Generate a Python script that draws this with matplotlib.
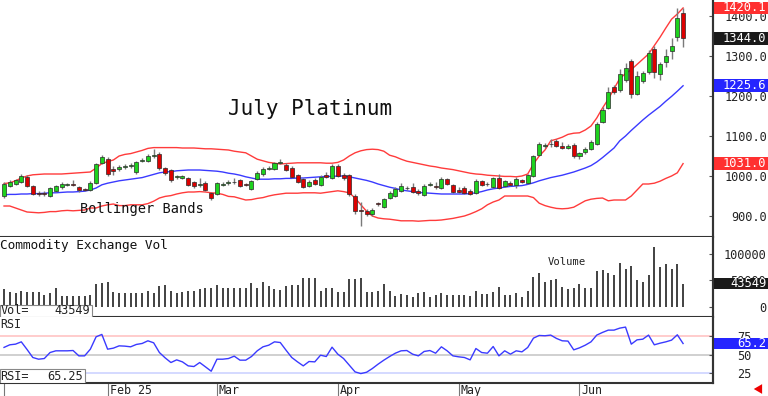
import matplotlib
matplotlib.use("Agg")
import matplotlib.pyplot as plt
import numpy as np
from matplotlib.patches import Rectangle

# ---- daily OHLC, July platinum (one value per trading day) ----
opens = [950, 975, 980, 985, 998, 975, 958, 958, 950, 963,
         972, 977, 980, 972, 968, 965, 982, 1033, 1043, 1017,
         1018, 1022, 1024, 1010, 1038, 1038, 1050, 1055, 1020, 1015,
         997, 996, 995, 985, 978, 983, 957, 955, 978, 982,
         984, 990, 979, 968, 993, 1005, 1018, 1018, 1032, 1028,
         1020, 1003, 993, 975, 990, 978, 1002, 995, 1025, 1003,
         1003, 950, 916, 913, 905, 932, 923, 945, 950, 963,
         969, 973, 963, 953, 977, 974, 970, 993, 978, 965,
         970, 963, 957, 988, 981, 973, 995, 975, 983, 978,
         990, 983, 1000, 1053, 1075, 1079, 1088, 1076, 1071, 1078,
         1050, 1061, 1068, 1081, 1136, 1171, 1222, 1214, 1239, 1287,
         1206, 1237, 1259, 1317, 1254, 1284, 1312, 1347, 1407]
highs = [985, 990, 993, 1005, 1002, 978, 962, 962, 973, 978,
         985, 983, 990, 975, 970, 988, 1033, 1052, 1048, 1025,
         1028, 1030, 1033, 1038, 1046, 1055, 1068, 1060, 1023, 1018,
         1003, 1003, 998, 988, 995, 987, 960, 986, 985, 990,
         995, 993, 982, 990, 1012, 1022, 1025, 1036, 1043, 1032,
         1024, 1006, 996, 989, 994, 1003, 1010, 1030, 1030, 1008,
         1006, 955, 935, 918, 920, 936, 946, 962, 972, 982,
         975, 983, 967, 980, 985, 985, 998, 996, 981, 973,
         975, 967, 992, 991, 985, 998, 1005, 991, 987, 997,
         993, 1006, 1053, 1086, 1083, 1093, 1093, 1086, 1080, 1082,
         1061, 1072, 1089, 1134, 1173, 1222, 1228, 1267, 1282, 1292,
         1262, 1262, 1315, 1324, 1284, 1318, 1345, 1420, 1420]
lows = [945, 972, 977, 982, 972, 952, 950, 950, 947, 960,
        968, 975, 976, 960, 962, 962, 980, 1030, 1000, 1003,
        1012, 1018, 1020, 1005, 1035, 1035, 1045, 1015, 1003, 985,
        993, 993, 975, 970, 972, 962, 940, 952, 975, 978,
        980, 972, 974, 965, 990, 1000, 1015, 1015, 1030, 1012,
        995, 982, 970, 972, 977, 975, 994, 992, 997, 990,
        950, 905, 875, 900, 900, 926, 920, 942, 947, 960,
        966, 957, 953, 950, 974, 968, 967, 977, 957, 957,
        955, 952, 954, 975, 975, 970, 967, 972, 975, 970,
        982, 980, 997, 1050, 1070, 1072, 1073, 1068, 1067, 1046,
        1043, 1056, 1065, 1078, 1133, 1168, 1205, 1211, 1236, 1196,
        1202, 1232, 1254, 1244, 1239, 1272, 1292, 1337, 1322]
closes = [980, 985, 990, 1000, 975, 955, 955, 956, 970, 975,
          980, 979, 978, 965, 965, 983, 1030, 1048, 1005, 1013,
          1022, 1026, 1028, 1035, 1041, 1050, 1052, 1020, 1008, 990,
          1000, 999, 978, 975, 981, 965, 945, 983, 981, 986,
          986, 975, 977, 988, 1008, 1018, 1021, 1033, 1034, 1015,
          998, 985, 973, 985, 980, 998, 998, 1025, 1000, 995,
          955, 913, 912, 905, 915, 930, 943, 958, 968, 975,
          971, 960, 957, 975, 979, 972, 993, 980, 960, 960,
          958, 955, 988, 978, 979, 995, 970, 988, 978, 993,
          985, 1003, 1050, 1081, 1077, 1081, 1076, 1071, 1076, 1050,
          1058, 1068, 1086, 1131, 1164, 1209, 1209, 1254, 1269, 1206,
          1249, 1257, 1307, 1259, 1279, 1299, 1325, 1395, 1344]

# ---- Bollinger bands as drawn on the chart ----
bb_upper = [981, 983, 988, 995, 1000, 1003, 1004, 1005, 1005, 1005,
            1005, 1006, 1007, 1008, 1009, 1010, 1020, 1031, 1036, 1040,
            1050, 1054, 1056, 1060, 1064, 1069, 1071, 1071, 1071, 1071,
            1071, 1070, 1070, 1070, 1069, 1068, 1068, 1067, 1066, 1065,
            1062, 1060, 1058, 1050, 1042, 1038, 1034, 1032, 1030, 1031,
            1032, 1033, 1033, 1033, 1033, 1033, 1032, 1032, 1034, 1040,
            1050, 1058, 1063, 1066, 1067, 1066, 1062, 1052, 1048, 1042,
            1037, 1034, 1031, 1028, 1025, 1023, 1020, 1018, 1016, 1013,
            1010, 1007, 1005, 1004, 1002, 1001, 1000, 999, 999, 998,
            1000, 1005, 1030, 1050, 1065, 1088, 1092, 1097, 1104, 1107,
            1108, 1115, 1125, 1145, 1170, 1192, 1218, 1244, 1256, 1266,
            1279, 1292, 1305, 1326, 1347, 1370, 1392, 1405, 1420.1]
bb_mid = [953, 954, 954, 955, 955, 956, 956, 957, 958, 958,
          959, 960, 960, 961, 962, 965, 970, 978, 982, 985,
          988, 990, 992, 994, 996, 1000, 1004, 1008, 1010, 1011,
          1013, 1014, 1015, 1015, 1015, 1014, 1013, 1012, 1010, 1007,
          1005, 1002, 998, 995, 992, 992, 992, 993, 993, 994,
          994, 995, 995, 996, 997, 998, 999, 999, 1000, 1000,
          998, 995, 992, 989, 985, 980, 976, 972, 969, 965,
          963, 961, 959, 958, 957, 956, 955, 955, 955, 955,
          955, 956, 958, 961, 965, 968, 970, 972, 974, 975,
          976, 979, 983, 988, 992, 996, 999, 1002, 1006, 1010,
          1015, 1020, 1026, 1035, 1046, 1058, 1070, 1088, 1100, 1114,
          1127, 1140, 1152, 1163, 1174, 1187, 1199, 1212, 1225.6]
bb_lower = [925, 925, 920, 915, 910, 909, 908, 909, 911, 911,
            913, 914, 913, 914, 915, 920, 920, 925, 928, 930,
            926, 926, 928, 928, 928, 931, 937, 945, 949, 951,
            955, 958, 960, 960, 961, 960, 958, 957, 954, 949,
            948, 944, 940, 941, 944, 946, 950, 953, 955, 957,
            957, 957, 958, 958, 958, 957, 959, 961, 963, 961,
            958, 945, 928, 912, 900, 895, 893, 892, 890, 888,
            888, 888, 887, 888, 889, 889, 890, 892, 894, 897,
            900, 905, 911, 918, 928, 935, 940, 950, 950, 950,
            950, 950, 946, 932, 926, 922, 919, 918, 919, 922,
            930, 938, 942, 944, 945, 938, 940, 940, 940, 950,
            965, 980, 980, 982, 987, 994, 1000, 1008, 1031.0]

# ---- volume (thousands of contracts) ----
volume_k = [34.5, 28, 26, 30, 28, 29, 28, 22, 27, 35,
            21, 21, 21, 21, 21, 22, 43, 46, 48, 28,
            26, 26, 26, 26, 26, 30, 26, 39, 42, 30,
            26, 28, 30, 30, 33, 35, 36, 41, 36, 36,
            36, 36, 36, 46, 36, 48, 40, 33, 32, 40,
            41, 41, 54, 54, 54, 30, 36, 36, 28, 28,
            52, 52, 54, 28, 28, 30, 43, 31, 21, 24,
            23, 19, 26, 28, 18, 23, 26, 23, 23, 23,
            23, 21, 30, 24, 24, 29, 37, 23, 23, 26,
            19, 30, 57, 65, 48, 51, 53, 37, 33, 35,
            44, 36, 36, 68, 69, 64, 61, 83, 72, 77,
            51, 47, 60, 113, 75, 82, 72, 81, 43.549]

# ---- RSI ----
rsi = [60, 63.5, 64.4, 67.5, 57.2, 46.4, 44.1, 45, 53.1, 55.4,
       55.4, 55.4, 55.8, 48.6, 48.6, 57.6, 74.3, 77.5, 57.6, 59,
       62.1, 61.7, 60.8, 64, 65.3, 68.9, 66.2, 53.1, 45.9, 39.6,
       43.2, 40.5, 35.1, 34.2, 39.6, 33.8, 27.9, 44.1, 44.1, 45,
       48.2, 42.8, 42.8, 47.7, 55.4, 60.8, 63, 67.5, 66.6, 56.3,
       46.4, 40.5, 35.1, 41, 40.5, 49.5, 47.7, 60.3, 50.9, 45,
       36, 27, 24.7, 26.5, 31.5, 37.4, 42.8, 47.7, 52.2, 55.4,
       55.8, 50.9, 48.6, 54.5, 55.8, 52.2, 60.8, 55.4, 48.6, 47.3,
       46.4, 43.2, 58.5, 53.1, 52.2, 61.2, 48.6, 55.4, 50.9, 55.4,
       54, 59.9, 72.5, 76.1, 75.7, 76.6, 72.1, 68.9, 68.5, 56.7,
       59.4, 63, 67.5, 76.6, 80.2, 83.3, 83.3, 86, 87.4, 64.4,
       70.2, 71.1, 76.6, 63.5, 65.7, 67.5, 69.8, 77, 65.25]

month_pos = [18, 37, 58, 79, 100]
month_labels = ["Feb 25", "Mar", "Apr", "May", "Jun"]
price_ticks = [900, 1000, 1100, 1200, 1300, 1400]
vol_ticks = [0, 50000, 100000]
rsi_ticks = [25, 50, 75]

W, H = 768, 396
FONT = "DejaVu Sans Mono"
TXT = "#222222"
UP, DOWN, WICK = "#1ed21e", "#dd0000", "#7a7a7a"
RED_BAND, BLUE = "#ff3b3b", "#3a3aff"
PLOT_RIGHT = 713


def add_panel(fig, top, bottom):
    return fig.add_axes([0, 1 - bottom / H, PLOT_RIGHT / W, (bottom - top) / H])


def frame(ax):
    for side in ("top", "left"):
        ax.spines[side].set_visible(False)
    for side in ("right", "bottom"):
        ax.spines[side].set_color("#333333")
        ax.spines[side].set_linewidth(1.5)
    ax.set_xlim(-0.7, 123.2)
    ax.tick_params(axis="x", bottom=False, labelbottom=False)


def right_labels(ax, ticks, labels, right_px):
    ax.set_yticks(ticks)
    ax.set_yticklabels(labels)
    pad = (right_px - PLOT_RIGHT) * 0.72
    ax.tick_params(axis="y", left=False, labelleft=False, right=True, labelright=True,
                   direction="in", length=3, color="#555555", pad=pad)
    for lab in ax.get_yticklabels():
        lab.set_ha("right")
        lab.set_family(FONT)
        lab.set_fontsize(8.6)
        lab.set_color(TXT)


def value_box(ax, y, text, color, half):
    tr = ax.get_yaxis_transform()
    ax.add_patch(Rectangle((1.0, y - half), (W - PLOT_RIGHT) / PLOT_RIGHT, 2 * half,
                           transform=tr, facecolor=color, edgecolor="none",
                           clip_on=False, zorder=6))
    ax.text((W - 1.5) / PLOT_RIGHT, y, text, transform=tr, ha="right", va="center",
            color="white", family=FONT, fontsize=8.7, zorder=7, clip_on=False)


def corner_box(ax, width_px, height_frac, name, value):
    ax.add_patch(Rectangle((0, 0), width_px / PLOT_RIGHT, height_frac, transform=ax.transAxes,
                           facecolor="white", edgecolor="#888888", lw=0.8, zorder=6))
    ax.text(0.5 / PLOT_RIGHT, height_frac / 2, name, transform=ax.transAxes, ha="left",
            va="center", family=FONT, fontsize=8.6, color=TXT, zorder=7)
    ax.text((width_px - 2) / PLOT_RIGHT, height_frac / 2, value, transform=ax.transAxes,
            ha="right", va="center", family=FONT, fontsize=8.6, color=TXT, zorder=7)


def main():
    x = np.arange(len(closes))
    o, h, l, c = (np.array(v, dtype=float) for v in (opens, highs, lows, closes))

    fig = plt.figure(figsize=(W / 100, H / 100), dpi=100)
    fig.patch.set_facecolor("white")

    # price panel
    ax = add_panel(fig, 0, 237)
    frame(ax)
    ax.set_ylim(847.5, 1440)
    ax.plot(x, bb_upper, color=RED_BAND, lw=1.0, zorder=2)
    ax.plot(x, bb_lower, color=RED_BAND, lw=1.0, zorder=2)
    ax.plot(x, bb_mid, color=BLUE, lw=1.0, zorder=2)
    ax.vlines(x, l, h, color=WICK, lw=1.0, zorder=3)
    up = c >= o
    ax.bar(x[up], (c - o)[up], bottom=o[up], width=0.7, color=UP,
           edgecolor="#2a2a2a", linewidth=0.5, zorder=4)
    ax.bar(x[~up], (o - c)[~up], bottom=c[~up], width=0.7, color=DOWN,
           edgecolor="#2a2a2a", linewidth=0.5, zorder=4)
    right_labels(ax, price_ticks, [f"{t:.1f}" for t in price_ticks], 767)
    value_box(ax, bb_upper[-1], f"{bb_upper[-1]:.1f}", "#ff3030", 16)
    value_box(ax, closes[-1], f"{closes[-1]:.1f}", "#1a1a1a", 16)
    value_box(ax, bb_mid[-1], f"{bb_mid[-1]:.1f}", "#2525ff", 16)
    value_box(ax, bb_lower[-1], f"{bb_lower[-1]:.1f}", "#ff3030", 16)
    ax.text(0.435, 0.54, "July Platinum", transform=ax.transAxes, ha="center", va="center",
            family=FONT, fontsize=15, color="#111111")
    ax.text(0.199, 0.118, "Bollinger Bands", transform=ax.transAxes, ha="center",
            va="center", family=FONT, fontsize=9.8, color="#111111")

    # volume panel
    vax = add_panel(fig, 237, 317)
    frame(vax)
    vax.set_ylim(-18900, 132000)
    vol = np.array(volume_k) * 1000
    vax.vlines(x, 0, vol, color="#333333", lw=1.3)
    right_labels(vax, vol_ticks, [str(t) for t in vol_ticks], 766)
    value_box(vax, vol[-1], f"{vol[-1]:.0f}", "#1a1a1a", 10400)
    vax.text(0, 0.9, "Commodity Exchange Vol", transform=vax.transAxes, ha="left",
             va="center", family=FONT, fontsize=9.2, color="#111111")
    vax.text(0.795, 0.69, "Volume", transform=vax.transAxes, ha="center", va="center",
             family=FONT, fontsize=7.6, color="#222222")
    corner_box(vax, 92, 12 / 80, "Vol=", f"{vol[-1]:.0f}")

    # RSI panel
    rax = add_panel(fig, 317, 383)
    frame(rax)
    rax.set_ylim(12, 101)
    rax.axhline(75, color="#ffc4c4", lw=1.2, zorder=1)
    rax.axhline(50, color="#c8c8c8", lw=1.2, zorder=1)
    rax.axhline(25, color="#cdd3ff", lw=1.2, zorder=1)
    rax.plot(x, rsi, color=BLUE, lw=1.0, zorder=3)
    right_labels(rax, rsi_ticks, [str(t) for t in rsi_ticks], 751)
    value_box(rax, rsi[-1], f"{rsi[-1]:.1f}", "#2525ff", 7.8)
    rax.text(0, 0.88, "RSI", transform=rax.transAxes, ha="left", va="center",
             family=FONT, fontsize=8.4, color=TXT)
    corner_box(rax, 85, 14 / 66, "RSI=", f"{rsi[-1]:.2f}")

    # month ticks below the RSI panel
    rax.set_xticks([0] + month_pos)
    rax.tick_params(axis="x", bottom=True, direction="out", length=9.4, width=0.8,
                    color="#777777", labelbottom=False)
    for pos, lab in zip(month_pos, month_labels):
        rax.text(pos + 0.35, -0.12, lab, transform=rax.get_xaxis_transform(), ha="left",
                 va="center", family=FONT, fontsize=8.4, color=TXT, clip_on=False)

    fig.add_artist(plt.Line2D([PLOT_RIGHT / W] * 2, [13 / H, 1], transform=fig.transFigure,
                              color="#333333", lw=1.5))
    ax.annotate("", xy=(751, 7), xytext=(764, 7), xycoords="figure pixels",
                textcoords="figure pixels",
                arrowprops=dict(arrowstyle="simple,head_width=0.7,head_length=0.6,tail_width=0.3",
                                color="#ee0000", lw=0))

    fig.savefig("out.png", dpi=100, facecolor="white")


if __name__ == "__main__":
    main()
